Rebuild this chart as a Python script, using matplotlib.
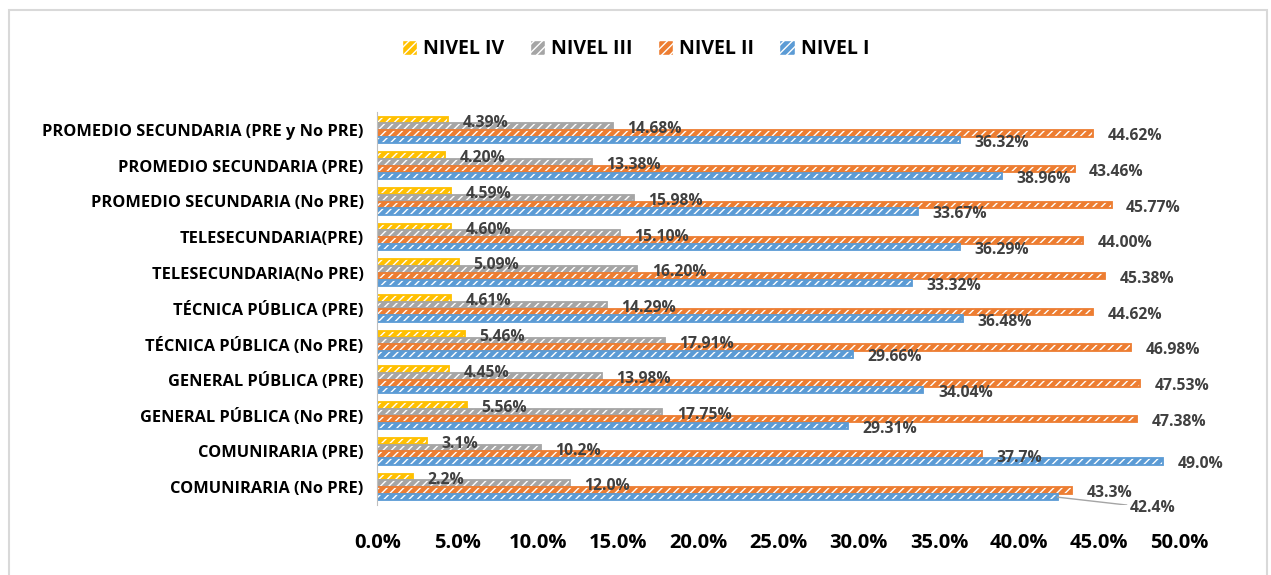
import numpy as np
import matplotlib.pyplot as plt
from matplotlib.patches import Patch, Rectangle

plt.rcParams['font.family'] = ['Open Sans', 'DejaVu Sans']

categories = ["COMUNIRARIA (No PRE)", "COMUNIRARIA (PRE)", "GENERAL PÚBLICA (No PRE)",
              "GENERAL PÚBLICA (PRE)", "TÉCNICA PÚBLICA (No PRE)", "TÉCNICA PÚBLICA (PRE)",
              "TELESECUNDARIA(No PRE)", "TELESECUNDARIA(PRE)", "PROMEDIO SECUNDARIA (No PRE)",
              "PROMEDIO SECUNDARIA (PRE)", "PROMEDIO SECUNDARIA (PRE y No PRE)"]
nivel_iv = [2.2, 3.1, 5.56, 4.45, 5.46, 4.61, 5.09, 4.60, 4.59, 4.20, 4.39]
nivel_iii = [12.0, 10.2, 17.75, 13.98, 17.91, 14.29, 16.20, 15.10, 15.98, 13.38, 14.68]
nivel_ii = [43.3, 37.7, 47.38, 47.53, 46.98, 44.62, 45.38, 44.00, 45.77, 43.46, 44.62]
nivel_i = [42.4, 49.0, 29.31, 34.04, 29.66, 36.48, 33.32, 36.29, 33.67, 38.96, 36.32]
decimals = [1, 1, 2, 2, 2, 2, 2, 2, 2, 2, 2]

series = [("NIVEL IV", nivel_iv, "#FFC000"),
          ("NIVEL III", nivel_iii, "#A5A5A5"),
          ("NIVEL II", nivel_ii, "#ED7D31"),
          ("NIVEL I", nivel_i, "#5B9BD5")]

fig = plt.figure(figsize=(12.71, 5.75), dpi=100)
ax = fig.add_axes([0.297, 0.122, 0.631, 0.683])

y = np.arange(len(categories))
h = 0.19
offsets = [1.5 * h, 0.5 * h, -0.5 * h, -1.5 * h]

for si, ((name, vals, col), off) in enumerate(zip(series, offsets)):
    ax.barh(y + off, vals, height=h * 0.95, color=col, edgecolor="white",
            hatch="////", linewidth=0)
    ax.barh(y + off, vals, height=h * 0.95, fill=False, edgecolor=col, linewidth=1.3)
    for yi, v, d in zip(y, vals, decimals):
        lx, ly = v + 0.9, yi + off - 0.08
        if si == 3 and yi == 0:
            # moved label with leader line, as in the original
            lx, ly = v + 4.5, yi + off - 0.3
            ax.plot([v, lx - 0.2], [yi + off, ly + 0.08], color="#A5A5A5", lw=1)
        ax.text(lx, ly, f"{v:.{d}f}%", va="center", ha="left",
                fontsize=11.3, fontweight="bold", color="#404040")

ax.set_xlim(0, 50)
ax.set_ylim(-0.5, len(categories) - 0.5)
ax.set_xticks(np.arange(0, 50.1, 5))
ax.set_xticklabels([f"{t:.1f}%" for t in np.arange(0, 50.1, 5)])
ax.set_yticks(y)
ax.set_yticklabels(categories)
ax.tick_params(axis="x", labelsize=14.5, length=0, pad=20)
ax.tick_params(axis="y", labelsize=11.8, length=0, pad=10)
for lab in ax.get_xticklabels() + ax.get_yticklabels():
    lab.set_fontweight("bold")
for s in ["top", "right", "bottom"]:
    ax.spines[s].set_visible(False)
ax.spines["left"].set_color("#BFBFBF")

handles = [Patch(facecolor=col, edgecolor="white", hatch="////") for _, _, col in series]
fig.legend(handles, [s[0] for s in series], loc="center", bbox_to_anchor=(0.5, 0.915),
           ncol=4, frameon=False, prop={"size": 14, "weight": "bold"},
           handlelength=0.8, handleheight=0.8, columnspacing=1.3, handletextpad=0.3)

fig.patches.append(Rectangle((9 / 1271, -0.01), 1258 / 1271, 1 - 10 / 575 + 0.01,
                             transform=fig.transFigure, fill=False,
                             edgecolor="#D9D9D9", linewidth=1.5))

fig.savefig("out.png")
